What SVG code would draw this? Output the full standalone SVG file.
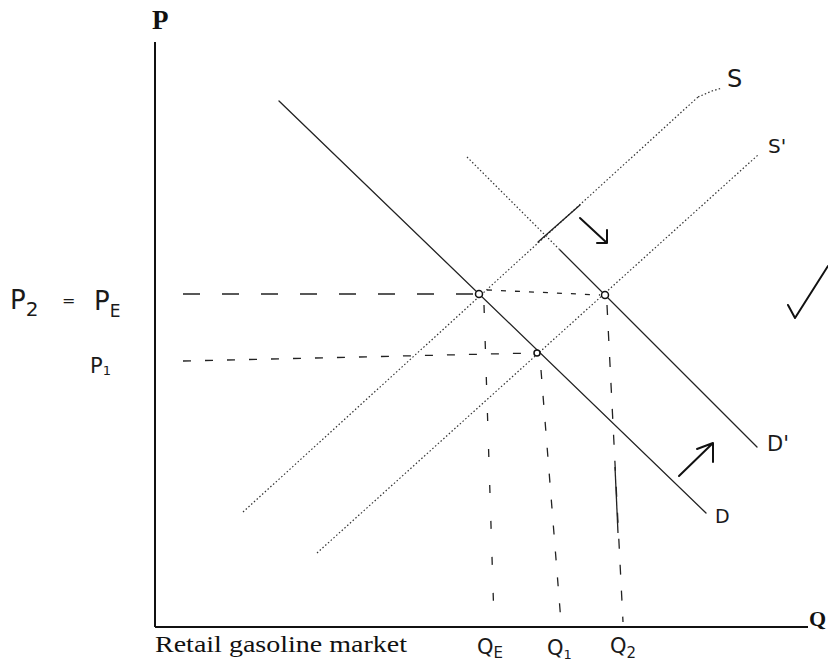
<svg xmlns="http://www.w3.org/2000/svg" width="828" height="669" viewBox="0 0 828 669">
<style>
.axis{stroke:#111;stroke-width:2;fill:none}
.solid{stroke:#222;stroke-width:1.3;fill:none;stroke-linecap:round}
.dotted{stroke:#333;stroke-width:1.2;fill:none;stroke-dasharray:1.5 2.2}
.guide{stroke:#222;stroke-width:1.3;fill:none}
.pt{fill:#fff;stroke:#111;stroke-width:1.5}
.serif{font-family:"Liberation Serif","Times New Roman",serif;fill:#111}
.hw{font-family:"DejaVu Sans","Liberation Sans",sans-serif;fill:#1a1a1a;font-weight:normal}
.ink{stroke:#111;stroke-width:2;fill:none;stroke-linecap:round;stroke-linejoin:round}
</style>
<rect width="828" height="669" fill="#fff"/>

<g id="axes">
  <line class="axis" x1="155" y1="42" x2="155" y2="627"/>
  <line class="axis" x1="155" y1="627" x2="808" y2="627"/>
  <text class="serif" x="152" y="29" font-size="27" font-weight="bold">P</text>
  <text class="serif" x="809" y="626" font-size="22" font-weight="bold">Q</text>
  <text class="serif" x="155" y="652" font-size="23" textLength="252" lengthAdjust="spacingAndGlyphs">Retail gasoline market</text>
</g>

<g id="connectors">
  <line class="guide" x1="183" y1="294" x2="475" y2="294" stroke-dasharray="17 22"/>
  <line class="guide" x1="487" y1="290" x2="600" y2="295" stroke-dasharray="5 9" stroke-width="1.6"/>
  <line class="guide" x1="183" y1="361" x2="533" y2="353" stroke-dasharray="8 14"/>
  <line class="guide" x1="484" y1="305" x2="494" y2="620" stroke-dasharray="8 28" stroke-width="1.6"/>
  <line class="guide" x1="541" y1="370" x2="561" y2="622" stroke-dasharray="9 17"/>
  <line class="guide" x1="607" y1="305" x2="623" y2="622" stroke-dasharray="10 16"/>
  <line class="guide" x1="615" y1="467" x2="618" y2="533"/>
</g>

<g id="curve-D">
  <line class="solid" x1="279" y1="101" x2="706" y2="513"/>
  <text class="hw" x="715" y="523" font-size="19">D</text>
</g>
<g id="curve-D-prime">
  <line class="dotted" x1="467" y1="157" x2="560" y2="250"/>
  <line class="solid" x1="560" y1="250" x2="757" y2="447"/>
  <text class="hw" x="767" y="451" font-size="21">D'</text>
</g>
<g id="curve-S">
  <line class="dotted" x1="243" y1="512" x2="698" y2="97"/>
  <line class="solid" x1="538" y1="242" x2="580" y2="205" stroke-width="1.4"/>
  <path class="dotted" d="M698,97 L712,91 L722,88"/>
  <text class="hw" x="727" y="87" font-size="24">S</text>
</g>
<g id="curve-S-prime">
  <line class="dotted" x1="317" y1="553" x2="758" y2="155"/>
  <text class="hw" x="768" y="153" font-size="20">S'</text>
</g>

<g id="equilibria">
  <circle class="pt" cx="479" cy="294" r="3.5"/>
  <circle class="pt" cx="605" cy="295" r="3.5"/>
  <circle class="pt" cx="537" cy="353" r="3"/>
</g>

<g id="price-labels">
  <text class="hw" x="10" y="309" font-size="26">P<tspan font-size="20" dy="7">2</tspan><tspan x="62" dy="-10" font-size="16">=</tspan><tspan x="94" dy="4" font-size="26">P</tspan><tspan font-size="17" dy="7">E</tspan></text>
  <text class="hw" x="90" y="373" font-size="21">P<tspan font-size="13" dy="2">1</tspan></text>
</g>

<g id="quantity-labels">
  <text class="hw" x="477" y="654" font-size="21">Q<tspan font-size="15" dy="4">E</tspan></text>
  <text class="hw" x="547" y="655" font-size="21">Q<tspan font-size="13" dy="4">1</tspan></text>
  <text class="hw" x="610" y="653" font-size="21">Q<tspan font-size="15" dy="5">2</tspan></text>
</g>

<g id="shift-arrows">
  <path class="ink" d="M580,218 L607,243 M597,243 L607,243 L607,230"/>
  <path class="ink" d="M679,476 L713,443 M697,449 L713,443 L713,462"/>
</g>

<g id="checkmark">
  <path class="ink" d="M788,305 L795,318 L828,266" stroke-width="2.6"/>
</g>
</svg>
